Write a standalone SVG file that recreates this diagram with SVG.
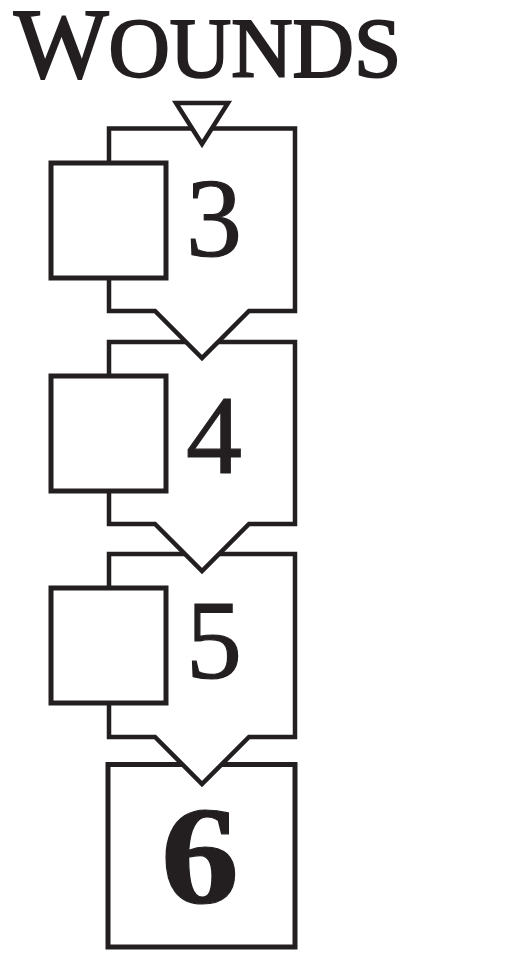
<svg xmlns="http://www.w3.org/2000/svg" width="523" height="963" viewBox="0 0 523 963">
<style>
.frame{fill:#fff;stroke:#231f20;stroke-width:4.5;stroke-linejoin:miter}
.box{fill:#fff;stroke:#231f20;stroke-width:5}
.digit{font-family:"Liberation Serif","DejaVu Serif",serif;fill:#231f20;stroke:#231f20;stroke-width:1.2;text-anchor:middle}
.title{font-family:"Liberation Serif","DejaVu Serif",serif;fill:#231f20;stroke:#231f20;stroke-width:2.2}
</style>
<rect width="523" height="963" fill="#fff"/>
<g id="title"><text class="title" x="14" y="77"><tspan font-size="100">W</tspan><tspan font-size="85">OUNDS</tspan></text></g>
<g id="node-6">
<rect class="box" x="108" y="764.5" width="187" height="182.5"/>
<text class="digit" font-size="140" font-weight="bold" transform="translate(200,903) scale(1.12,1)">6</text>
</g>
<g id="node-5">
<path class="frame" d="M109,554 H295 V737 H249 L202,784 L155,737 H109 Z"/>
<rect class="box" x="51" y="588" width="115" height="115"/>
<text class="digit" x="214" y="678" font-size="112">5</text>
</g>
<g id="node-4">
<path class="frame" d="M109,342 H295 V524 H249 L202,571 L155,524 H109 Z"/>
<rect class="box" x="51" y="376" width="115" height="115"/>
<text class="digit" x="214" y="473" font-size="112">4</text>
</g>
<g id="node-3">
<path class="frame" d="M109,128.5 H295 V311 H249 L202,358 L155,311 H109 Z"/>
<rect class="box" x="51" y="163" width="115" height="115"/>
<text class="digit" x="214" y="256" font-size="112">3</text>
</g>
<g id="connectors">
<path class="frame" d="M176,103 H228 L202,144 Z"/>
</g>
</svg>
